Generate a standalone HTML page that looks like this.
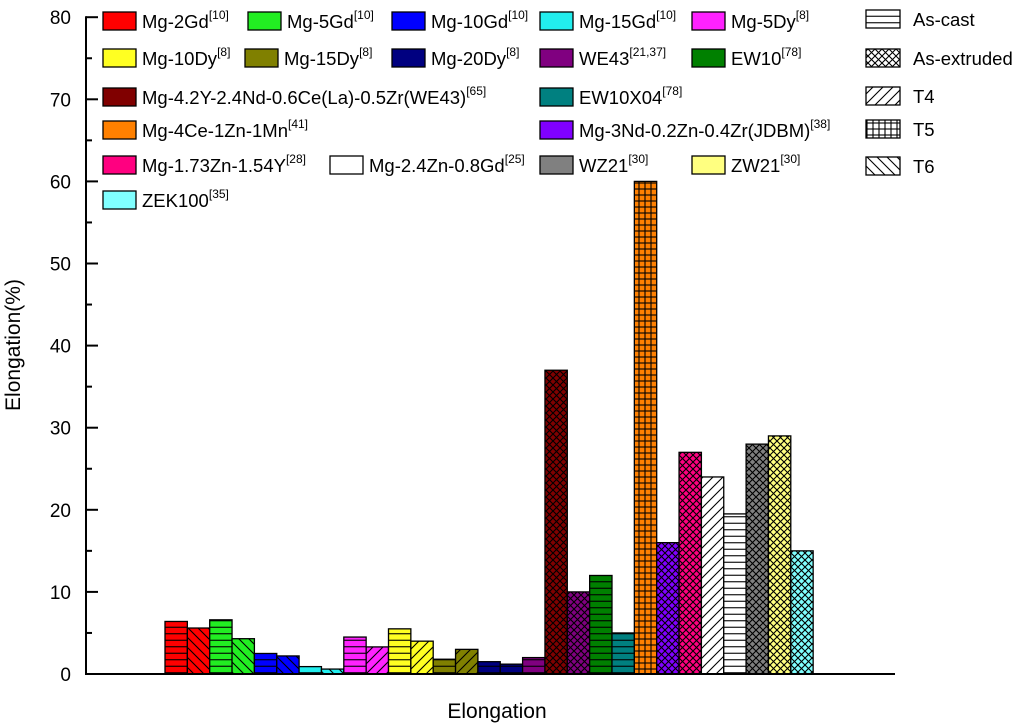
<!DOCTYPE html>
<html><head><meta charset="utf-8"><style>
body{margin:0;background:#fff;}
svg{display:block;font-family:"Liberation Sans",Arial,sans-serif;}
</style></head><body>
<svg id="chart" width="1024" height="724" xmlns="http://www.w3.org/2000/svg">
<defs id="defs"></defs>
<g id="bars"></g>
<g id="axes"></g>
<g id="legend"></g>
<text x="497" y="718" text-anchor="middle" font-size="21">Elongation</text>
<text transform="translate(20,345) rotate(-90)" text-anchor="middle" font-size="21">Elongation(%)</text>
</svg>
<script>
const values=[6.4,5.6,6.6,4.3,2.5,2.2,0.9,0.6,4.5,3.3,5.5,4.0,1.8,3.0,1.5,1.2,2.0,37,10,12,5,60,16,27,24,19.5,28,29,15];
const colors=["#ff0000","#ff0000","#22ee22","#22ee22","#0000ff","#0000ff","#22eeee","#22eeee","#ff22ff","#ff22ff","#ffff22","#ffff22","#808000","#808000","#000080","#000080","#800080","#800000","#800080","#008000","#008080","#ff8000","#8000ff","#ff0080","#ffffff","#ffffff","#808080","#ffff80","#80ffff"];
const patterns=["h","b","h","b","h","b","h","b","h","s","h","s","h","s","h","h","h","x","x","h","h","g","x","x","s","h","x","x","x"];
const yTicks=[0,10,20,30,40,50,60,70,80];
const legendNames=["Mg-2Gd","Mg-5Gd","Mg-10Gd","Mg-15Gd","Mg-5Dy","Mg-10Dy","Mg-15Dy","Mg-20Dy","WE43","EW10","Mg-4.2Y-2.4Nd-0.6Ce(La)-0.5Zr(WE43)","EW10X04","Mg-4Ce-1Zn-1Mn","Mg-3Nd-0.2Zn-0.4Zr(JDBM)","Mg-1.73Zn-1.54Y","Mg-2.4Zn-0.8Gd","WZ21","ZW21","ZEK100"];
const legendRefs=["10","10","10","10","8","8","8","8","21,37","78","65","78","41","38","28","25","30","30","35"];
const legendColors=["#ff0000","#22ee22","#0000ff","#22eeee","#ff22ff","#ffff22","#808000","#000080","#800080","#008000","#800000","#008080","#ff8000","#8000ff","#ff0080","#ffffff","#808080","#ffff80","#80ffff"];
const patternNames=["As-cast","As-extruded","T4","T5","T6"];
const patternKeys=["h","x","s","g","b"];

const NS="http://www.w3.org/2000/svg";
const X0=86,Y0=674,YS=8.21,BX=165,BW=22.35;
const yPix=v=>Y0-v*YS;
const xPix=i=>BX+i*BW;
function mk(t,a,p){const e=document.createElementNS(NS,t);for(const k in a)e.setAttribute(k,a[k]);(p||null)&&p.appendChild(e);return e;}
const defs=document.getElementById('defs');
const made={};
function pat(color,type){
  const id='p'+color.slice(1)+type;
  if(made[id])return id;made[id]=1;
  let s=type==='x'?7:type==='g'?6:type==='h'?6.5:10;
  const p=mk('pattern',{id:id,patternUnits:'userSpaceOnUse',width:s,height:s},defs);
  mk('rect',{width:s,height:s,fill:color},p);
  const st={stroke:'#000','stroke-width':1.1,fill:'none'};
  if(type==='h')mk('line',Object.assign({x1:0,y1:s/2,x2:s,y2:s/2},st),p);
  if(type==='g'){mk('line',Object.assign({x1:0,y1:s/2,x2:s,y2:s/2},st),p);mk('line',Object.assign({x1:s/2,y1:0,x2:s/2,y2:s},st),p);}
  if(type==='s')mk('path',Object.assign({d:`M0,${s} L${s},0 M${-s/2},${s/2} L${s/2},${-s/2} M${s/2},${s*1.5} L${s*1.5},${s/2}`},st),p);
  if(type==='b')mk('path',Object.assign({d:`M0,0 L${s},${s} M${-s/2},${s/2} L${s/2},${s*1.5} M${s/2},${-s/2} L${s*1.5},${s/2}`},st),p);
  if(type==='x')mk('path',Object.assign({d:`M0,0 L${s},${s} M0,${s} L${s},0`},st),p);
  return id;
}
const bars=document.getElementById('bars');
values.forEach((v,i)=>{
  const id=pat(colors[i],patterns[i]);
  const r=mk('rect',{x:xPix(i),y:yPix(v),width:BW,height:v*YS,fill:`url(#${id})`,stroke:'#000','stroke-width':1.3},bars);
  
  
});
const ax=document.getElementById('axes');
mk('line',{x1:X0,y1:Y0,x2:X0,y2:yPix(80)-1,stroke:'#000','stroke-width':2},ax);
mk('line',{x1:X0-1,y1:Y0,x2:895,y2:Y0,stroke:'#000','stroke-width':2},ax);
yTicks.forEach(t=>{
  mk('line',{x1:X0,y1:yPix(t),x2:X0+12,y2:yPix(t),stroke:'#000','stroke-width':2},ax);
  if(t<80)mk('line',{x1:X0,y1:yPix(t+5),x2:X0+6,y2:yPix(t+5),stroke:'#000','stroke-width':2},ax);
  const tx=mk('text',{x:71,y:yPix(t)+7,'text-anchor':'end','font-size':19},ax);
  tx.textContent=t;
  
  
});
const lg=document.getElementById('legend');
const rowsY=[21,58,97,130,165,200];
const pos=[[0,103],[0,248],[0,392],[0,540],[0,692],[1,103],[1,245],[1,392],[1,540],[1,692],[2,103],[2,540],[3,103],[3,540],[4,103],[4,330],[4,540],[4,692],[5,103]];
legendNames.forEach((n,i)=>{
  const [r,x]=pos[i];const y=rowsY[r];
  const g=mk('g',{},lg);
  
  
  mk('rect',{x:x,y:y-9,width:33,height:18,fill:legendColors[i],stroke:'#000','stroke-width':1.3},g);
  const t=mk('text',{x:x+39,y:y+7,'font-size':18.5},g);
  t.textContent=n;
  const sup=mk('tspan',{'font-size':12,dy:-9},t);sup.textContent='['+legendRefs[i]+']';
});
const pY=[19,58,96,129,166];
patternNames.forEach((n,i)=>{
  const g=mk('g',{},lg);
  
  
  const id=pat('#ffffff',patternKeys[i]);
  mk('rect',{x:866,y:pY[i]-9,width:34,height:18,fill:`url(#${id})`,stroke:'#000','stroke-width':1.3},g);
  const t=mk('text',{x:913,y:pY[i]+7,'font-size':18.5},g);t.textContent=n;
});
</script>
</body></html>
